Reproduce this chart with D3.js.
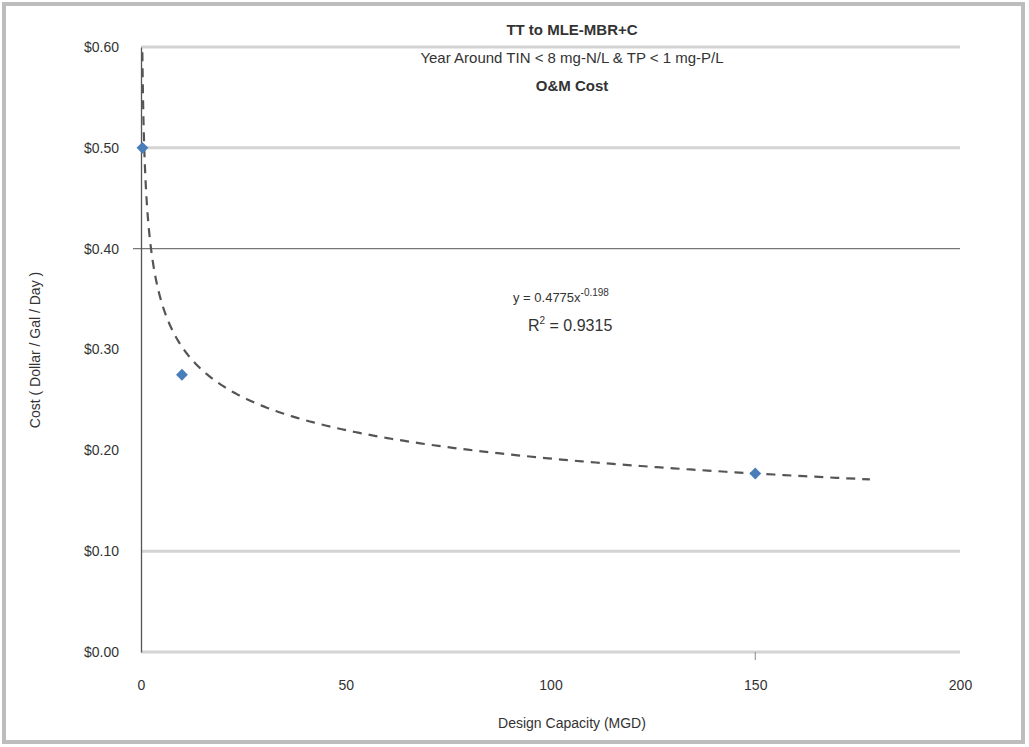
<!DOCTYPE html>
<html><head><meta charset="utf-8">
<script src="https://cdn.jsdelivr.net/npm/d3@7"></script>
<style>body{margin:0;background:#fff}svg{display:block}text{font-family:"Liberation Sans",Arial,sans-serif;fill:#333}</style>
</head><body>
<script>
// Data
const capacity = [0.35, 10, 150];          // MGD
const cost = [0.50, 0.275, 0.177];         // $/gal/day
const trendA = 0.4775, trendB = -0.198;    // power trendline coefficients (from label)
const trendRange = [0.33, 178];
const yTicks = [0, 0.1, 0.2, 0.3, 0.4, 0.5, 0.6];
const xTicks = [0, 50, 100, 150, 200];
const gridValues = [0.6, 0.5, 0.1, 0.0];
const titleLines = ["TT to MLE-MBR+C", "Year Around TIN < 8 mg-N/L & TP < 1 mg-P/L", "O&M Cost"];

const W = 1029, H = 747;
const m = {left: 141, right: 960, top: 47, bottom: 652};
const svg = d3.select("body").append("svg").attr("width", W).attr("height", H);

// outer frame
svg.append("rect").attr("x", 4).attr("y", 4).attr("width", W - 10).attr("height", H - 9)
  .attr("fill", "#fff").attr("stroke", "#bdbdbd").attr("stroke-width", 4);

const x = d3.scaleLinear().domain([0, 200]).range([m.left, m.right]);
const y = d3.scaleLinear().domain([0, 0.6]).range([m.bottom, m.top]);

// gridlines
svg.append("g").selectAll("line").data(gridValues).join("line")
  .attr("x1", x(0)).attr("x2", x(200)).attr("y1", d => y(d)).attr("y2", d => y(d))
  .attr("stroke", "#d4d4d4").attr("stroke-width", 3);
// darker line at 0.40
svg.append("line").attr("x1", x(0) - 8).attr("x2", x(200)).attr("y1", y(0.4)).attr("y2", y(0.4))
  .attr("stroke", "#777").attr("stroke-width", 1.3);

// y axis
const yAxis = d3.axisLeft(y).tickValues(yTicks).tickFormat(d3.format("$.2f")).tickSize(0).tickPadding(22);
const gy = svg.append("g").attr("transform", `translate(${m.left},0)`).call(yAxis);
gy.select(".domain").attr("stroke", "#555").attr("stroke-width", 1.3);
gy.selectAll("text").style("font-size", "14px").attr("fill", "#333");

// x axis
const xAxis = d3.axisBottom(x).tickValues(xTicks).tickFormat(d3.format("d")).tickSize(0).tickPadding(28);
const gx = svg.append("g").attr("transform", `translate(0,${m.bottom})`).call(xAxis);
gx.select(".domain").remove();
gx.selectAll("text").style("font-size", "14px").attr("fill", "#333");
svg.append("line").attr("x1", x(150)).attr("x2", x(150)).attr("y1", y(0)).attr("y2", y(0) + 8)
  .attr("stroke", "#888").attr("stroke-width", 1);

// trendline
const tx = d3.range(0, 401).map(i => trendRange[0] * Math.pow(trendRange[1] / trendRange[0], i / 400));
const line = d3.line().x(d => x(d)).y(d => y(trendA * Math.pow(d, trendB)));
svg.append("path").datum(tx).attr("d", line).attr("fill", "none")
  .attr("stroke", "#555").attr("stroke-width", 2.2).attr("stroke-dasharray", "9,7");

// points
svg.append("g").selectAll("path").data(capacity.map((c, i) => [c, cost[i]])).join("path")
  .attr("d", d3.symbol(d3.symbolSquare, 70))
  .attr("transform", d => `translate(${x(d[0])},${y(d[1])}) rotate(45)`)
  .attr("fill", "#4a7ebb");

// title
const tcx = 572;
svg.append("text").attr("x", tcx).attr("y", 35).attr("text-anchor", "middle").style("font-size", "15px").style("font-weight", "bold").text(titleLines[0]);
svg.append("text").attr("x", tcx).attr("y", 63).attr("text-anchor", "middle").style("font-size", "15px").text(titleLines[1]);
svg.append("text").attr("x", tcx).attr("y", 91).attr("text-anchor", "middle").style("font-size", "15px").style("font-weight", "bold").text(titleLines[2]);

// equation
const eq = svg.append("text").attr("x", 513).attr("y", 302).style("font-size", "13px");
eq.append("tspan").text("y = " + trendA + "x");
eq.append("tspan").attr("dy", -6).style("font-size", "10px").text(trendB);
const r2 = svg.append("text").attr("x", 528).attr("y", 331).style("font-size", "16px");
r2.append("tspan").text("R");
r2.append("tspan").attr("dy", -7).style("font-size", "10px").text("2");
r2.append("tspan").attr("dy", 7).text(" = 0.9315");

// axis titles
svg.append("text").attr("x", 572).attr("y", 728).attr("text-anchor", "middle").style("font-size", "14px").text("Design Capacity (MGD)");
svg.append("text").attr("transform", "translate(40,350) rotate(-90)").attr("text-anchor", "middle").style("font-size", "14px").text("Cost ( Dollar / Gal / Day )");
</script>
</body></html>
